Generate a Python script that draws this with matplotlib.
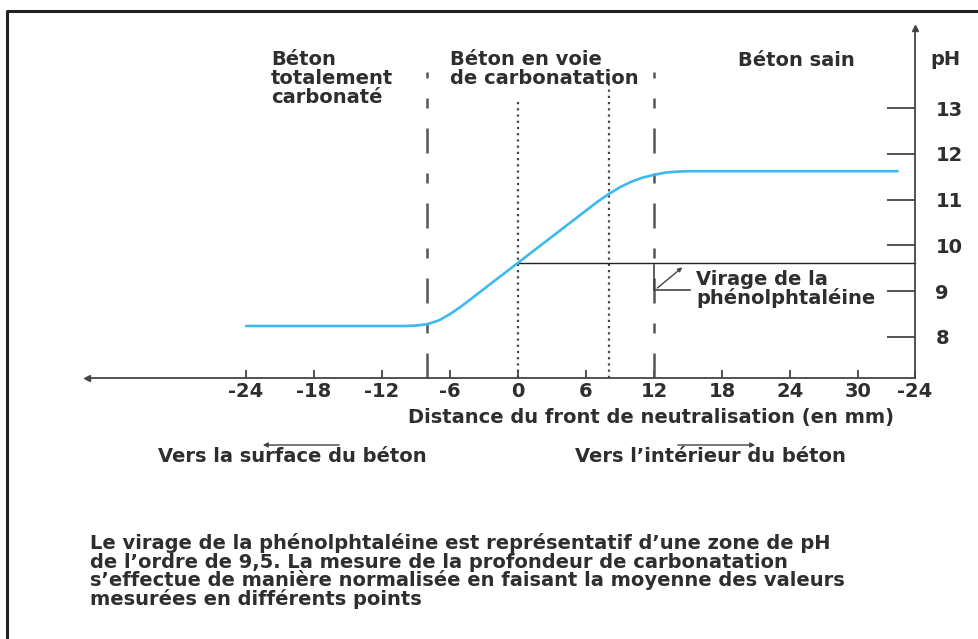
import numpy as np
import matplotlib
matplotlib.use("Agg")
import matplotlib.pyplot as plt
from matplotlib.lines import Line2D

W, H = 979, 639

# pH profile across the carbonation front (distance in mm, pH)
dist = [-24, -12, -10, -9, -8, -7, -6, -5, -4, -3, -2, -1, 0, 1, 2, 3, 4,
        5, 6, 7, 8, 9, 10, 11, 12, 13, 14, 15, 16, 20, 33.5]
ph = [8.24, 8.24, 8.24, 8.25, 8.28, 8.36, 8.50, 8.67, 8.86, 9.05, 9.24,
      9.43, 9.62, 9.81, 10.00, 10.19, 10.38, 10.57, 10.76, 10.95, 11.12,
      11.27, 11.39, 11.48, 11.54, 11.59, 11.61, 11.62, 11.62, 11.62, 11.62]

x_ticks = [-24, -18, -12, -6, 0, 6, 12, 18, 24, 30, 35]
x_tick_labels = ["-24", "-18", "-12", "-6", "0", "6", "12", "18", "24", "30", "-24"]
y_ticks = [8, 9, 10, 11, 12, 13]

zone_lines = [-8, 0, 8, 12]      # front limits
ph_virage = 9.62                 # phenolphthalein turning point
x_end = 35                       # position of pH axis
x_start = -38

txt_col = "#2e2e2e"
fs = 14
font = dict(family="DejaVu Sans", weight="bold", color=txt_col, fontsize=fs)

fig = plt.figure(figsize=(W / 100, H / 100), dpi=100)
ax = fig.add_axes([0, 0, 1, 1])
# pixel -> data mapping
ax.set_xlim((0 - 518) / 11.33, (W - 518) / 11.33)
ax.set_ylim(8 - (H - 337) / 45.8, 8 + 337 / 45.8)
ax.patch.set_alpha(0)

y_axis = 8 - (378 - 337) / 45.8
y_top = 8 + (337 - 28) / 45.8

for s in ["top", "left"]:
    ax.spines[s].set_visible(False)
ax.spines["bottom"].set_position(("data", y_axis))
ax.spines["bottom"].set_bounds(x_start, x_end)
ax.spines["right"].set_position(("data", x_end))
ax.spines["right"].set_bounds(y_axis, y_top)
for s in ["bottom", "right"]:
    ax.spines[s].set_color("#444444")
    ax.spines[s].set_linewidth(1.3)

ax.set_xticks(x_ticks)
ax.set_xticklabels(x_tick_labels)
ax.tick_params(axis="x", direction="in", length=6, width=1.3, color="#444444", pad=3)
ax.yaxis.tick_right()
ax.set_yticks(y_ticks)
ax.tick_params(axis="y", direction="in", length=20, width=1.3, color="#444444", pad=15)
for lab in ax.get_xticklabels() + ax.get_yticklabels():
    lab.set_fontweight("bold")
    lab.set_fontsize(fs)
    lab.set_color(txt_col)

ax.plot([x_start], [y_axis], marker="<", ms=4, color="#444444", clip_on=False)
ax.plot([x_end], [y_top], marker="^", ms=4, color="#444444", clip_on=False)

# zone limits
ax.plot([zone_lines[0]] * 2, [y_axis, 13.79], color="#555555", lw=1.8,
        ls=(0, (10, 8, 4, 8)))
ax.plot([zone_lines[3]] * 2, [y_axis, 13.79], color="#555555", lw=1.8,
        ls=(0, (10, 8, 4, 8)))
ax.plot([zone_lines[1]] * 2, [y_axis, 13.2], color="#444444", lw=1.6, ls=(0, (1, 1.8)))
ax.plot([zone_lines[2]] * 2, [y_axis, 13.55], color="#444444", lw=1.6, ls=(0, (1, 1.8)))

ax.plot([0, x_end], [ph_virage, ph_virage], color="#222222", lw=1.0)

ax.plot(dist, ph, color="#3cb9f0", lw=1.9, solid_capstyle="round")

# virage marker
ax.plot([12, 12, 15.2], [9.57, 9.03, 9.03], color="#444444", lw=1.2)
ax.annotate("", xy=(14.5, 9.52), xytext=(12.3, 9.07),
            arrowprops=dict(arrowstyle="-|>", color="#444444", lw=1.0,
                            mutation_scale=6, shrinkA=0, shrinkB=0))


def fx(x):
    return x / W


def fy(y):
    return 1 - y / H


def block(x, y0, dy, lines, **kw):
    for i, t in enumerate(lines):
        fig.text(fx(x), fy(y0 + i * dy), t, va="baseline", ha="left", **font, **kw)


block(271, 65, 19, ["Béton", "totalement", "carbonaté"])
block(450, 65, 19, ["Béton en voie", "de carbonatation"])
block(738, 66, 19, ["Béton sain"])
block(930, 65, 19, ["pH"])
block(696, 285, 19.5, ["Virage de la", "phénolphtaléine"])
block(408, 423, 19, ["Distance du front de neutralisation (en mm)"])
block(158, 462, 19, ["Vers la surface du béton"])
block(575, 462, 19, ["Vers l’intérieur du béton"])
block(90, 549, 18.7, [
    "Le virage de la phénolphtaléine est représentatif d’une zone de pH",
    "de l’ordre de 9,5. La mesure de la profondeur de carbonatation",
    "s’effectue de manière normalisée en faisant la moyenne des valeurs",
    "mesurées en différents points",
])

# direction arrows
fig.add_artist(matplotlib.patches.FancyArrowPatch(
    (fx(342), fy(445)), (fx(260), fy(445)), transform=fig.transFigure,
    arrowstyle="-|>", mutation_scale=7, color="#444444", lw=1.0))
fig.add_artist(matplotlib.patches.FancyArrowPatch(
    (fx(675), fy(445)), (fx(758), fy(445)), transform=fig.transFigure,
    arrowstyle="-|>", mutation_scale=7, color="#444444", lw=1.0))

# frame
fig.add_artist(Line2D([fx(7), fx(7), 1], [0, fy(11), fy(11)], color="#222222",
                      lw=2.2, transform=fig.transFigure))

fig.savefig("out.png", dpi=100)
